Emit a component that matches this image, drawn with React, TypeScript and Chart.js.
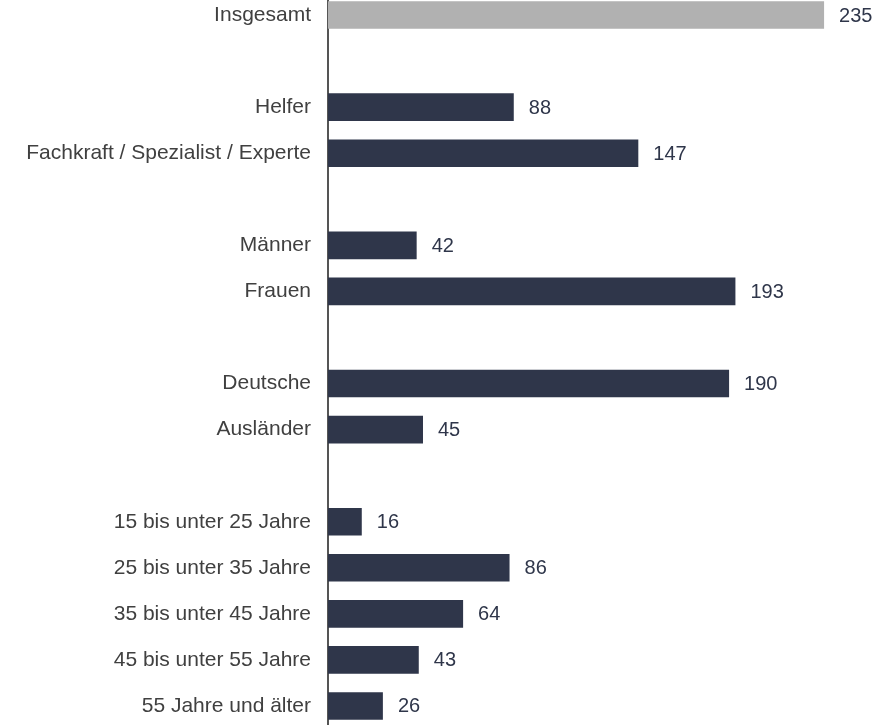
import React, { useEffect, useRef } from "react";
import { Chart, registerables } from "chart.js";

Chart.register(...registerables);

const categories: string[] = [
  "Insgesamt",
  "",
  "Helfer",
  "Fachkraft / Spezialist / Experte",
  "",
  "Männer",
  "Frauen",
  "",
  "Deutsche",
  "Ausländer",
  "",
  "15 bis unter 25 Jahre",
  "25 bis unter 35 Jahre",
  "35 bis unter 45 Jahre",
  "45 bis unter 55 Jahre",
  "55 Jahre und älter",
];

const values: (number | null)[] = [235, null, 88, 147, null, 42, 193, null, 190, 45, null, 16, 86, 64, 43, 26];

const TOTAL_COLOR = "#b1b1b1";
const BAR_COLOR = "#2f364a";
const LABEL_COLOR = "#404040";
const VALUE_COLOR = "#2f364a";
const FONT = "'Liberation Sans', Arial, sans-serif";

const valueLabels = {
  id: "valueLabels",
  afterDatasetsDraw(chart: any) {
    const ctx = chart.ctx;
    const meta = chart.getDatasetMeta(0);
    ctx.save();
    ctx.font = `20px ${FONT}`;
    ctx.fillStyle = VALUE_COLOR;
    ctx.textAlign = "left";
    ctx.textBaseline = "middle";
    meta.data.forEach((el: any, i: number) => {
      const v = values[i];
      if (v === null || v === undefined) return;
      ctx.fillText(String(v), el.x + 15, el.y + 1);
    });
    ctx.restore();
  },
};

export default function App() {
  const ref = useRef<HTMLCanvasElement>(null);
  useEffect(() => {
    if (!ref.current) return;
    const chart = new Chart(ref.current, {
      type: "bar",
      data: {
        labels: categories,
        datasets: [
          {
            data: values as any,
            backgroundColor: values.map((_, i) => (i === 0 ? TOTAL_COLOR : BAR_COLOR)),
            barPercentage: 0.6,
            categoryPercentage: 1,
          },
        ],
      },
      options: {
        indexAxis: "y",
        animation: false,
        responsive: false,
        maintainAspectRatio: false,
        layout: { padding: 0 },
        plugins: {
          legend: { display: false },
          tooltip: { enabled: false },
        },
        scales: {
          x: {
            display: false,
            min: 0,
            max: 266.7,
          },
          y: {
            grid: { display: false, drawTicks: false },
            border: { display: true, color: "#555555", width: 2 },
            ticks: {
              color: LABEL_COLOR,
              padding: 17,
              autoSkip: false,
              font: { family: FONT, size: 21 },
            },
            afterFit(scale: any) {
              scale.width = 328;
              scale.paddingTop = 0;
              scale.paddingBottom = 0;
            },
          },
        },
      },
      plugins: [valueLabels],
    });
    return () => chart.destroy();
  }, []);
  return (
    <div style={{ position: "fixed", left: 0, top: 0, width: 891, height: 725, overflow: "hidden", background: "#fff" }}>
      <canvas
        ref={ref}
        width={891}
        height={737}
        style={{ position: "absolute", left: 0, top: -8, width: 891, height: 737 }}
      />
    </div>
  );
}
